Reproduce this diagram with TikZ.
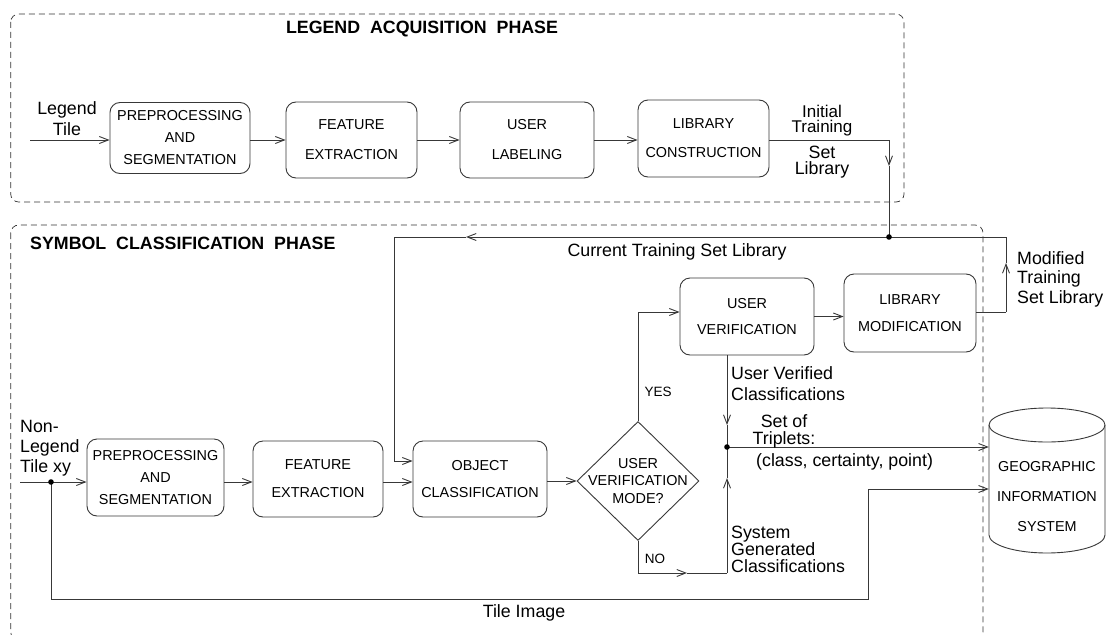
\documentclass[tikz,border=0pt]{standalone}
\usepackage{fontspec}
\setmainfont{Liberation Sans}
\usetikzlibrary{arrows.meta,shapes.geometric}
\newcommand\bxf[1]{\fontsize{14.4}{#1}\selectfont}
\newcommand\lbf[1]{\fontsize{17.8}{#1}\selectfont}
\begin{document}
\begin{tikzpicture}[x=1pt,y=-1pt,
  ln/.style={draw=black!78, line width=0.9pt},
  arr/.style={ln, -{Straight Barb[length=9pt,width=7pt]}},
  box/.style={ln, rounded corners=10pt, align=center, inner sep=0pt},
  frame/.style={draw=black!80, line width=0.7pt, dash pattern=on 6pt off 4pt, rounded corners=8pt},
  lbl/.style={inner sep=0pt, font=\lbf{21}},
  yn/.style={inner sep=0pt, font=\fontsize{13.5}{16}\selectfont}]
\useasboundingbox (0,0) rectangle (1107,634);
\clip (0,0) rectangle (1107,634);
\fill[white] (0,0) rectangle (1107,634);

% phase frames
\draw[frame] (10.7,14) rectangle (904,202);
\draw[frame] (10.7,225) rectangle (983,640);

% titles
\node[inner sep=0pt, font=\bfseries\lbf{20}] (t1) at (422,29) {LEGEND\ \ ACQUISITION\ \ PHASE};
\node[inner sep=0pt, font=\bfseries\lbf{20}, anchor=west] (t2) at (30,243) {SYMBOL\ \ CLASSIFICATION\ \ PHASE};

% top row
\node[box, minimum width=140pt, minimum height=71pt, font=\bxf{22}] (tp) at (180,138) {PREPROCESSING\\AND\\SEGMENTATION};
\node[box, minimum width=131pt, minimum height=76pt, font=\bxf{30}] (tf) at (351.5,140) {FEATURE\\EXTRACTION};
\node[box, minimum width=134pt, minimum height=76pt, font=\bxf{30}] (tu) at (527,140) {USER\\LABELING};
\node[box, minimum width=131pt, minimum height=77pt, font=\bxf{29}] (tl) at (703.5,138.5) {LIBRARY\\CONSTRUCTION};

% bottom row
\node[box, minimum width=137pt, minimum height=77pt, font=\bxf{22}] (bp) at (155.5,477.5) {PREPROCESSING\\AND\\SEGMENTATION};
\node[box, minimum width=130pt, minimum height=76pt, font=\bxf{28}] (bf) at (318,479) {FEATURE\\EXTRACTION};
\node[box, minimum width=134pt, minimum height=76pt, font=\bxf{27}] (bo) at (480,479) {OBJECT\\CLASSIFICATION};
\node[box, minimum width=134pt, minimum height=77pt, font=\bxf{26}] (uv) at (747,316.5) {USER\\VERIFICATION};
\node[box, minimum width=132pt, minimum height=78pt, font=\bxf{27}] (lm) at (910,313) {LIBRARY\\MODIFICATION};

% decision diamond
\node[diamond, ln, minimum width=122pt, minimum height=119pt, inner sep=0pt] (dm) at (638,481) {};
\node[inner sep=0pt, align=center, font=\bxf{17.5}] (dmt) at (dm.center) {USER\\VERIFICATION\\MODE?};

% GIS cylinder
\draw[ln] (989,425) -- (989,535) arc[start angle=180,end angle=360,x radius=58pt,y radius=18pt] -- (1105,425);
\draw[ln] (1047,425) ellipse[x radius=58pt, y radius=17pt];
\node[inner sep=0pt, align=center, minimum width=116pt, font=\bxf{30}] (gis) at (1047,497) {GEOGRAPHIC\\INFORMATION\\SYSTEM};

% coordinates
\coordinate (lin) at (30,140);
\coordinate (c1) at (889,140);
\coordinate (J) at (889,237);
\coordinate (c2) at (1006,237);
\coordinate (c3) at (1006,312);
\coordinate (c4) at (394,237);
\coordinate (c5) at (394,461);
\coordinate (y1) at (638,312);
\coordinate (J2) at (727,447);
\coordinate (n1) at (638,573);
\coordinate (n2) at (727,573);
\coordinate (bin) at (20,482);
\coordinate (D) at (51,482);
\coordinate (tc1) at (51,599);
\coordinate (tc2) at (868,599);
\coordinate (tc3) at (868,489);
\coordinate (m1) at (889,166);
\coordinate (m2) at (1006,263);
\coordinate (m3) at (466,237);
\coordinate (m4) at (727,425);
\coordinate (m5) at (687,573);
\coordinate (m6) at (727,478);

% top flow
\draw[arr] (lin) -- (tp.west |- lin);
\draw[arr] (tp.east |- lin) -- (tf.west |- lin);
\draw[arr] (tf.east |- lin) -- (tu.west |- lin);
\draw[arr] (tu.east |- lin) -- (tl.west |- lin);
\draw[ln] (tl.east |- lin) -- (c1);
\draw[arr] (c1) -- (m1);
\draw[ln] (m1) -- (J);

% library feedback
\draw[ln] (lm.east |- c3) -- (c3);
\draw[arr] (c3) -- (m2);
\draw[ln] (m2) -- (c2) -- (J);
\draw[arr] (J) -- (m3);
\draw[ln] (m3) -- (c4) -- (c5);
\draw[arr] (c5) -- (bo.west |- c5);
\fill (J) circle[radius=2.8pt];

% bottom flow
\draw[arr] (bin) -- (bp.west |- bin);
\draw[arr] (bp.east |- bin) -- (bf.west |- bin);
\draw[arr] (bf.east |- bin) -- (bo.west |- bin);
\draw[arr] (bo.east |- dm) -- (dm.west);
\draw[ln] (dm.north) -- (y1);
\draw[arr] (y1) -- (uv.west |- y1);
\draw[arr] (uv.east) -- (lm.west |- uv.east);
\draw[arr] (J2 |- uv.south) -- (m4);
\draw[ln] (m4) -- (J2);
\draw[ln] (dm.south) -- (n1);
\draw[arr] (n1) -- (m5);
\draw[ln] (m5) -- (n2);
\draw[arr] (n2) -- (m6);
\draw[ln] (m6) -- (J2);
\draw[arr] (J2) -- (gis.west |- J2);
\fill (J2) circle[radius=2.8pt];
\draw[ln] (D) -- (tc1) -- (tc2) -- (tc3);
\draw[arr] (tc3) -- (gis.west |- tc3);
\fill (D) circle[radius=2.8pt];

% labels
\node[lbl, align=center] (lleg) at (67,119) {Legend\\Tile};
\node[lbl, align=center, font=\fontsize{17}{15.5}\selectfont] (linit) at (822,120.5) {Initial\\Training};
\node[lbl, align=center, font=\lbf{16}] (lsetl) at (822,162) {Set\\Library};
\node[lbl] (lcur) at (677,252) {Current Training Set Library};
\node[lbl, align=left, anchor=west, font=\lbf{19.5}] (lmod) at (1017,279) {Modified\\Training\\Set Library};
\node[yn] (lyes) at (658,392) {YES};
\node[yn] (lno) at (655,559) {NO};
\node[lbl, align=left, anchor=west] (luv) at (731,383.5) {User Verified\\Classifications};
\node[lbl, align=center, font=\lbf{17}] (lset) at (784,431.5) {Set of\\Triplets:};
\node[lbl, anchor=west] (ltr) at (756,462) {(class, certainty, point)};
\node[lbl, align=left, anchor=west, font=\lbf{17}] (lsys) at (731,549) {System\\Generated\\Classifications};
\node[lbl] (ltile) at (524,613) {Tile Image};
\node[lbl, align=left, anchor=west, font=\lbf{20}] (lnon) at (20,448) {Non-\\Legend\\Tile xy};
\end{tikzpicture}
\end{document}
